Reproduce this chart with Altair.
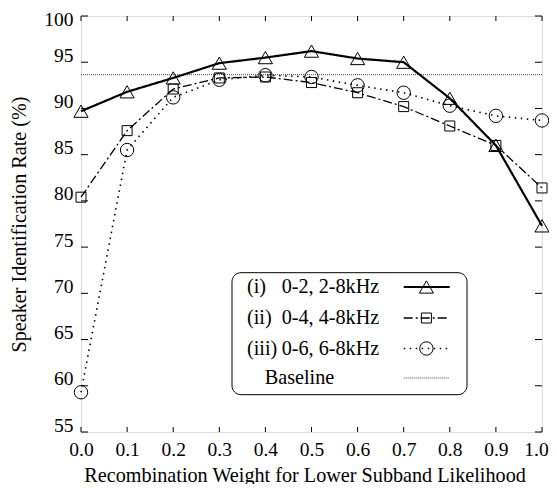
import altair as alt
import pandas as pd

# ---- data ----
weights = [0.0, 0.1, 0.2, 0.3, 0.4, 0.5, 0.6, 0.7, 0.8, 0.9, 1.0]
series_i = [89.7, 91.8, 93.3, 94.9, 95.5, 96.2, 95.4, 95.0, 91.1, 86.0, 77.3]
series_ii = [80.4, 87.6, 92.1, 93.3, 93.4, 92.8, 91.7, 90.2, 88.1, 86.0, 81.4]
series_iii = [59.3, 85.5, 91.2, 93.1, 93.6, 93.4, 92.5, 91.7, 90.3, 89.2, 88.7]
baseline_value = 93.65

legend_prefix = ["(i)", "(ii)", "(iii)"]
legend_names = ["0-2, 2-8kHz", "0-4, 4-8kHz", "0-6, 6-8kHz"]
baseline_label = "Baseline"

x_ticks = [0.0, 0.1, 0.2, 0.3, 0.4, 0.5, 0.6, 0.7, 0.8, 0.9, 1.0]
y_ticks = [55, 60, 65, 70, 75, 80, 85, 90, 95, 100]

FONT = "'Liberation Serif', 'Times New Roman', 'DejaVu Serif', serif"
FS = 19.5
FT = 20.2
W, H = 461, 416
TOP = 8
off = TOP + 8  # page y of plot top

styles = [
    dict(shape="triangle-up", size=200, width=2.2, dash=[1, 0]),
    dict(shape="square", size=100, width=1.3, dash=[9, 3, 2, 3]),
    dict(shape="circle", size=180, width=1.6, dash=[1.5, 4.5]),
]
all_series = [series_i, series_ii, series_iii]

xscale = alt.Scale(domain=[0, 1], nice=False, zero=False)
yscale = alt.Scale(domain=[55, 100], nice=False, zero=False)

xaxis = alt.Axis(values=x_ticks, format=".1f", ticks=False, tickSize=0, domain=False,
                 grid=False, labelFont=FONT, labelFontSize=FS, labelColor="black",
                 labelPadding=8, labelFlush=False,
                 labelOffset={"expr": "datum.value == 1 ? -6 : 0"},
                 title="Recombination Weight for Lower Subband Likelihood",
                 titleFont=FONT, titleFontSize=FT, titleFontWeight="normal",
                 titleColor="black", titleX=223.6, titleY=49, titleAlign="center",
                 titleBaseline="alphabetic")
yaxis = alt.Axis(values=y_ticks, ticks=False, tickSize=0, domain=False, grid=False,
                 labelFont=FONT, labelFontSize=FS, labelColor="black", labelPadding=8,
                 labelBaseline="alphabetic",
                 labelOffset={"expr": "datum.value == 100 ? 9 : -1"},
                 labelFlush=False,
                 title="Speaker Identification Rate (%)", titleFont=FONT,
                 titleFontSize=FT, titleFontWeight="normal", titleColor="black",
                 titleX=-62, titleY=H / 2, titleAngle=270, titleAlign="center",
                 titleBaseline="middle")

layers = []

axes_df = pd.DataFrame({"w": weights, "v": series_i})
layers.append(
    alt.Chart(axes_df).mark_point(opacity=0).encode(
        x=alt.X("w:Q", scale=xscale, axis=xaxis),
        y=alt.Y("v:Q", scale=yscale, axis=yaxis),
    )
)

base_df = pd.DataFrame({"b": [baseline_value]})
layers.append(
    alt.Chart(base_df).mark_rule(color="#444", strokeWidth=1, strokeDash=[1, 1]).encode(
        y=alt.Y("b:Q", scale=yscale)
    )
)

for vals, st in zip(all_series, styles):
    df = pd.DataFrame({"w": weights, "v": vals})
    layers.append(
        alt.Chart(df).mark_line(color="black", strokeWidth=st["width"],
                                strokeDash=st["dash"]).encode(
            x=alt.X("w:Q", scale=xscale), y=alt.Y("v:Q", scale=yscale)
        )
    )
    layers.append(
        alt.Chart(df).mark_point(shape=st["shape"], size=st["size"], filled=False,
                                 color="black", strokeWidth=1, opacity=1).encode(
            x=alt.X("w:Q", scale=xscale), y=alt.Y("v:Q", scale=yscale)
        )
    )

xt = pd.DataFrame({"t": x_ticks})
yt = pd.DataFrame({"t": y_ticks})
layers.append(alt.Chart(xt).mark_rule(color="black", strokeWidth=1).encode(
    x=alt.X("t:Q", scale=xscale), y=alt.value(H), y2=alt.value(H - 5)))
layers.append(alt.Chart(xt).mark_rule(color="black", strokeWidth=1).encode(
    x=alt.X("t:Q", scale=xscale), y=alt.value(0), y2=alt.value(5)))
layers.append(alt.Chart(yt).mark_rule(color="black", strokeWidth=1).encode(
    y=alt.Y("t:Q", scale=yscale), x=alt.value(0), x2=alt.value(7)))
layers.append(alt.Chart(yt).mark_rule(color="black", strokeWidth=1).encode(
    y=alt.Y("t:Q", scale=yscale), x=alt.value(W), x2=alt.value(W - 7)))

# custom legend (pixel positions inside the plot area)
one = pd.DataFrame({"a": [0]})
layers.append(alt.Chart(one).mark_rect(fill="white", stroke="black", strokeWidth=1,
                                       cornerRadius=9).encode(
    x=alt.value(151), x2=alt.value(386), y=alt.value(272.7 - off), y2=alt.value(394.7 - off)))

rows_y = [287 - off, 318 - off, 348.5 - off]
for i, (pre, name, st) in enumerate(zip(legend_prefix, legend_names, styles)):
    ry = rows_y[i]
    tdf = pd.DataFrame({"p": [pre], "n": [name]})
    layers.append(alt.Chart(tdf).mark_text(align="left", baseline="middle", font=FONT,
                                           fontSize=FT, color="black").encode(
        x=alt.value(166), y=alt.value(ry), text="p:N"))
    layers.append(alt.Chart(tdf).mark_text(align="left", baseline="middle", font=FONT,
                                           fontSize=FT, color="black").encode(
        x=alt.value(200.7), y=alt.value(ry), text="n:N"))
    layers.append(alt.Chart(one).mark_rule(color="black", strokeWidth=st["width"],
                                           strokeDash=st["dash"]).encode(
        x=alt.value(322.7), x2=alt.value(368.7), y=alt.value(ry)))
    layers.append(alt.Chart(one).mark_point(shape=st["shape"], size=st["size"],
                                            filled=False, color="black", strokeWidth=1,
                                            opacity=1).encode(
        x=alt.value(345.4), y=alt.value(ry)))

bl = pd.DataFrame({"n": [baseline_label]})
layers.append(alt.Chart(bl).mark_text(align="left", baseline="middle", font=FONT,
                                      fontSize=FT, color="black").encode(
    x=alt.value(183.7), y=alt.value(378 - off), text="n:N"))
layers.append(alt.Chart(one).mark_rule(color="#444", strokeWidth=1, strokeDash=[1, 1]).encode(
    x=alt.value(322.7), x2=alt.value(368.7), y=alt.value(378 - off)))

chart = alt.layer(*layers).properties(
    width=W, height=H,
    autosize=alt.AutoSizeParams(type="none"),
    padding={"left": 73, "top": TOP, "right": 7, "bottom": 52},
).configure_view(stroke="black", strokeWidth=1.2).configure(background="white")

chart.save("out.html", embed_options={"renderer": "svg", "actions": False})
